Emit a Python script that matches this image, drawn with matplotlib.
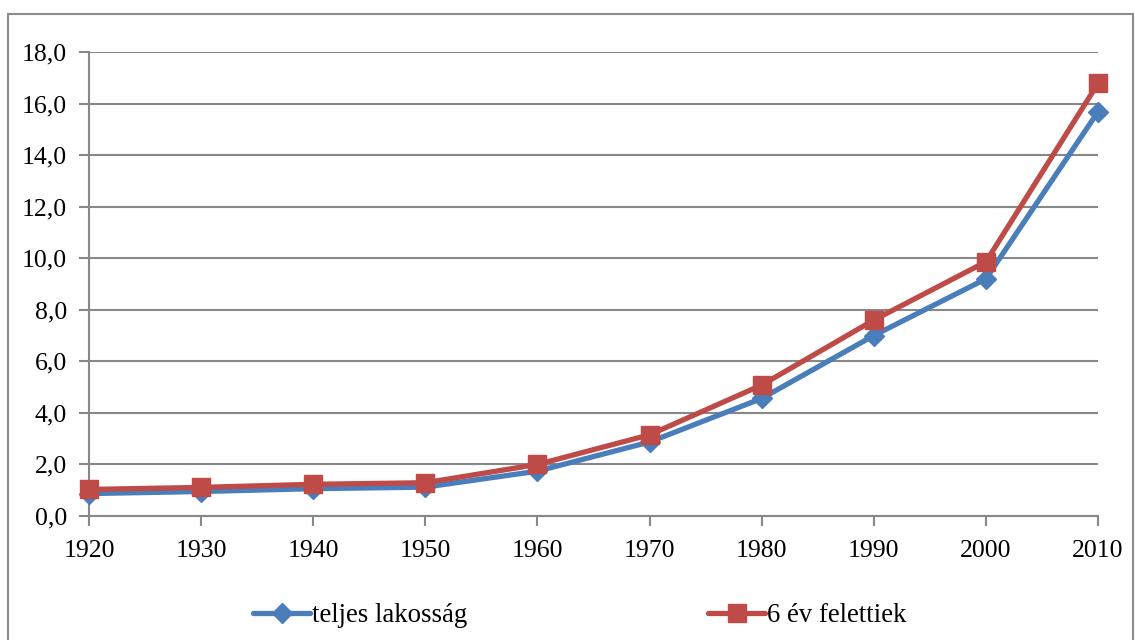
import matplotlib
matplotlib.use("Agg")
import matplotlib.pyplot as plt
from matplotlib.patches import Rectangle
from matplotlib.ticker import FuncFormatter

years = [1920, 1930, 1940, 1950, 1960, 1970, 1980, 1990, 2000, 2010]
teljes = [0.87, 0.95, 1.06, 1.12, 1.74, 2.87, 4.56, 7.0, 9.2, 15.68]
felett6 = [1.03, 1.11, 1.23, 1.29, 2.0, 3.15, 5.08, 7.6, 9.86, 16.78]
series_names = ["teljes lakosság", "6 év felettiek"]
yticks = [0, 2, 4, 6, 8, 10, 12, 14, 16, 18]

plt.rcParams['font.family'] = ['Liberation Serif', 'DejaVu Serif']
FS = 18.5
LFS = 19.3
grid_c = "#888888"
blue = "#4a7ebb"
red = "#be4b48"

fig = plt.figure(figsize=(11.35, 6.4), dpi=100)
fig.patches.append(Rectangle((8/1135, -0.05), (1133-8)/1135, 1 - 14/640 + 0.05,
                             transform=fig.transFigure, fill=False,
                             edgecolor="#8c8c8c", linewidth=1.5))
ax = fig.add_axes([89/1135, 1-516/640, (1098-89)/1135, (516-52)/640])

l1, = ax.plot(years, teljes, color=blue, lw=3.8, marker="D", markersize=10,
              markeredgecolor=blue, markerfacecolor=blue, clip_on=False, zorder=3,
              solid_capstyle="round")
l2, = ax.plot(years, felett6, color=red, lw=3.8, marker="s", markersize=13.5,
              markeredgecolor=red, markerfacecolor=red, clip_on=False, zorder=4,
              solid_capstyle="round")

ax.set_xlim(1920, 2010)
ax.set_ylim(0, 18)
ax.set_xticks(years)
ax.set_yticks(yticks)
ax.yaxis.set_major_formatter(FuncFormatter(lambda v, p: f"{v:.1f}".replace(".", ",")))
ax.grid(axis="y", color=grid_c, linewidth=1.5)
ax.set_axisbelow(True)
for s in ["top", "right"]:
    ax.spines[s].set_visible(False)
for s in ["left", "bottom"]:
    ax.spines[s].set_color(grid_c)
    ax.spines[s].set_linewidth(1.5)
ax.tick_params(axis="both", direction="out", length=7, width=1.5, color=grid_c,
               labelsize=FS, labelcolor="black")
ax.tick_params(axis="y", pad=9)
ax.tick_params(axis="x", pad=10)

hl = 57 / (LFS * 100 / 72)
fig.legend([l1], [series_names[0]], loc="center left", bbox_to_anchor=(253/1135, 1-616/640),
           frameon=False, fontsize=LFS, handlelength=hl, handletextpad=0.08,
           borderaxespad=0, borderpad=0)
fig.legend([l2], [series_names[1]], loc="center left", bbox_to_anchor=(708/1135, 1-616/640),
           frameon=False, fontsize=LFS, handlelength=hl, handletextpad=0.08,
           borderaxespad=0, borderpad=0)

fig.savefig("out.png", dpi=100)
